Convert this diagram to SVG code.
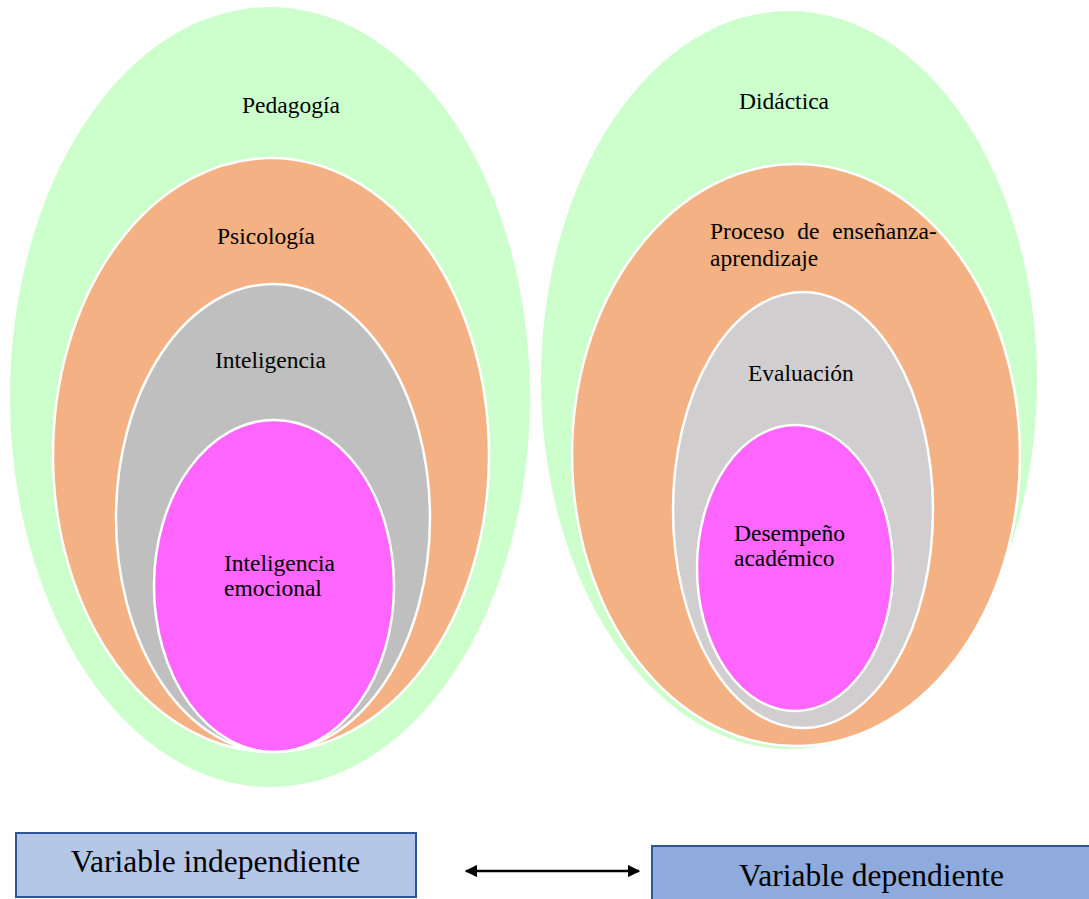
<svg xmlns="http://www.w3.org/2000/svg" width="1089" height="899" viewBox="0 0 1089 899">
<style>
text{font-family:'Liberation Serif','Times New Roman',Times,serif;fill:#000}
.lbl{font-size:23.5px}
.big{font-size:31.5px}
.in{stroke:#fff;stroke-width:2.5}
</style>
<defs>
<marker id="ah" viewBox="0 0 10 10" refX="9" refY="5" markerWidth="5" markerHeight="5" orient="auto-start-reverse" markerUnits="strokeWidth">
<path d="M0,0 L10,5 L0,10 z" fill="#000"/>
</marker>
</defs>
<rect width="1089" height="899" fill="#fff"/>
<g id="pedagogia"><ellipse cx="270" cy="397" rx="260" ry="390" fill="#CCFFCC"/><text class="lbl" x="242" y="113">Pedagogía</text></g>
<g id="psicologia"><ellipse class="in" cx="271" cy="455" rx="218" ry="297" fill="#F4B183"/><text class="lbl" x="217" y="244">Psicología</text></g>
<g id="inteligencia"><ellipse class="in" cx="273" cy="518" rx="157" ry="234" fill="#BFBFBF"/><text class="lbl" x="215" y="368">Inteligencia</text></g>
<g id="inteligencia-emocional"><ellipse class="in" cx="274" cy="586" rx="120" ry="166" fill="#FF66FF"/><text class="lbl" x="224" y="571">Inteligencia</text><text class="lbl" x="224" y="596">emocional</text></g>
<g id="didactica"><ellipse cx="789" cy="380" rx="248" ry="369" fill="#CCFFCC"/><text class="lbl" x="739" y="109">Didáctica</text></g>
<g id="proceso"><ellipse class="in" cx="796" cy="455" rx="224" ry="291" fill="#F4B183"/><text class="lbl" x="710" y="239" word-spacing="7">Proceso de enseñanza-</text><text class="lbl" x="710" y="266">aprendizaje</text></g>
<g id="evaluacion"><ellipse class="in" cx="803" cy="510" rx="130" ry="218" fill="#D0CECE"/><text class="lbl" x="748" y="381">Evaluación</text></g>
<g id="desempeno"><ellipse class="in" cx="795" cy="568" rx="98" ry="143" fill="#FF66FF"/><text class="lbl" x="734" y="541">Desempeño</text><text class="lbl" x="734" y="566">académico</text></g>
<g id="var-independiente"><rect x="16" y="833" width="400" height="64" fill="#B4C7E7" stroke="#2F5597" stroke-width="2"/><text class="big" x="215.5" y="872" text-anchor="middle">Variable independiente</text></g>
<g id="var-dependiente"><rect x="652" y="846" width="440" height="60" fill="#8FAADC" stroke="#2F5597" stroke-width="2"/><text class="big" x="871.5" y="886" text-anchor="middle">Variable dependiente</text></g>
<g id="connectors"><line x1="466" y1="871" x2="639" y2="871" stroke="#000" stroke-width="2.5" marker-start="url(#ah)" marker-end="url(#ah)"/></g>
</svg>
